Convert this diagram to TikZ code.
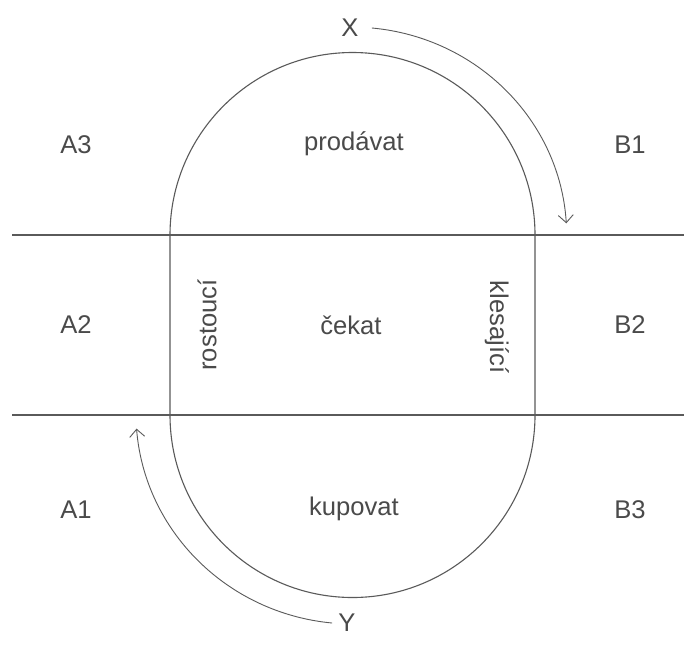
\documentclass[tikz,border=0pt]{standalone}
\usepackage{fontspec}
\setmainfont{Liberation Sans}
\usetikzlibrary{arrows.meta}
\definecolor{Ink}{HTML}{4A4A4A}
\definecolor{Edge}{HTML}{5A5A5A}

\begin{document}
\begin{tikzpicture}[x=0.5pt, y=0.5pt, font=\fontsize{12.8}{15}\selectfont, text=Ink,
  rule/.style={draw=Edge, line width=0.55pt},
  flow/.style={draw=Edge, line width=0.45pt, -{Straight Barb[length=3.8pt, width=7.5pt]}},
  lbl/.style={inner sep=4pt}]
  \useasboundingbox[fill=white] (0,0) rectangle (684,661);
  % zones
  \draw[rule] (12,426) -- (684,426);
  \draw[rule] (12,246) -- (684,246);
  \draw[rule] (170,246) -- (170,426) arc[start angle=180, end angle=0, radius=182.5]
    -- (535,246) arc[start angle=0, end angle=-180, radius=182.5] -- cycle;
  % labels
  \node[lbl] (a3) at (76,516) {A3};
  \node[lbl] (a2) at (76,336) {A2};
  \node[lbl] (a1) at (76,151) {A1};
  \node[lbl] (b1) at (630,516) {B1};
  \node[lbl] (b2) at (630,336) {B2};
  \node[lbl] (b3) at (630,151) {B3};
  \node[lbl] (sell) at (354,517) {prodávat};
  \node[lbl] (wait) at (351,336) {čekat};
  \node[lbl] (buy) at (354,152) {kupovat};
  \node[lbl, rotate=90] (up) at (207,336) {rostoucí};
  \node[lbl, rotate=-90] (down) at (497,334) {klesající};
  \node[lbl] (X) at (350,633) {X};
  \node[lbl] (Y) at (347,38) {Y};
  % cycle
  \draw[flow] ([xshift=2.5pt]X.east) arc[start angle=84.6, end angle=3.5, x radius=215, y radius=209];
  \draw[flow] ([xshift=1pt]Y.west) arc[start angle=264.5, end angle=184.5, x radius=217, y radius=212];
\end{tikzpicture}
\end{document}
